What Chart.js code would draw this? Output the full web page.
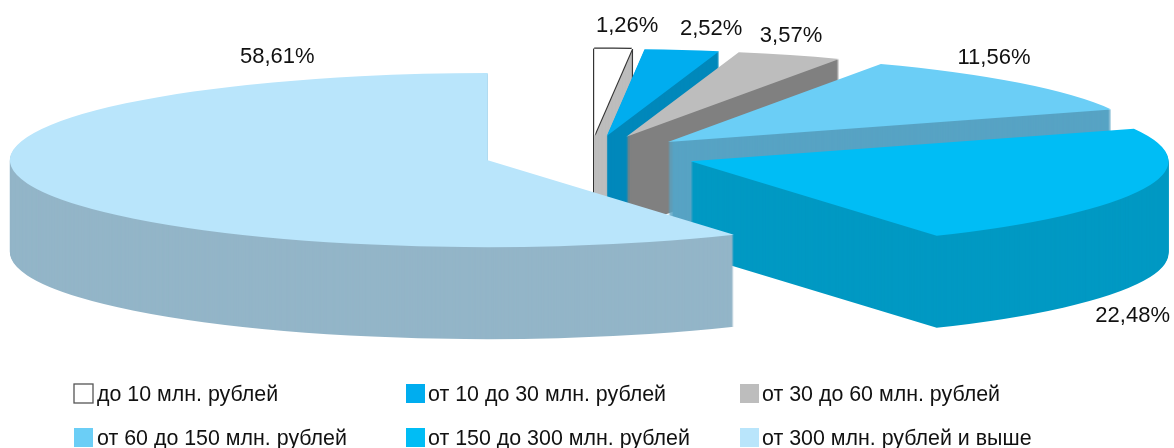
<!DOCTYPE html>
<html lang="ru">
<head>
<meta charset="utf-8">
<title>Pie</title>
<script src="https://cdn.jsdelivr.net/npm/chart.js@4"></script>
<style>
  html, body { margin: 0; padding: 0; background: #fff; overflow: hidden; }
  #wrap { width: 1174px; height: 448px; position: relative; }
</style>
</head>
<body>
<div id="wrap"><canvas id="pie"></canvas></div>
<script>
'use strict';

var categories = ['до 10 млн. рублей', 'от 10 до 30 млн. рублей', 'от 30 до 60 млн. рублей',
  'от 60 до 150 млн. рублей', 'от 150 до 300 млн. рублей', 'от 300 млн. рублей и выше'];
var shares = [1.26, 2.52, 3.57, 11.56, 22.48, 58.61];

var topColors = ['#FFFFFF', '#00ADEF', '#BDBDBD', '#6BCEF6', '#00BDF5', '#B9E5FB'];
var wallColors = ['#BDBDBD', '#0088BB', '#808080', '#57A3C4', '#0099C3', '#93B5C8'];
var swatchBorders = ['#555555', null, null, null, null, null];

// where each percent label sits, relative to the middle of the slice's rim
var labelShift = [[14, -23], [29, -21], [1, -19], [-25, -25], [-11, 127], [250, -126]];

var FONT = '"Liberation Sans", Arial, sans-serif';
var RADIUS = 178;
var EXPLODE = 39.5;
var centerX = 590, centerY = 155;
var stretchX = 2.685, stretchY = 0.489;
var depth = 92;
var swatchX = [74, 406, 740];
var legendX = [97, 428, 762];
var swatchY = [384, 428];
var baselineY = [401, 445];

function drawArcAs(ctx, arc, color) {
  var saved = arc.options;
  arc.options = { backgroundColor: color, borderColor: color, borderWidth: 0, offset: 0, spacing: 0,
    borderAlign: 'center', borderRadius: 0, circular: true };
  arc.draw(ctx);
  arc.options = saved;
}

// squashed copy of the arc, moved to its exploded spot plus dx/dy screen pixels
function drawSlice(ctx, arc, explode, dx, dy, color) {
  var mid = (arc.startAngle + arc.endAngle) / 2;
  ctx.save();
  ctx.translate(centerX + dx + Math.cos(mid) * explode * stretchX,
    centerY + dy + Math.sin(mid) * explode * stretchY);
  ctx.scale(stretchX, stretchY);
  ctx.translate(-arc.x, -arc.y);
  drawArcAs(ctx, arc, color);
  ctx.restore();
}

var pie3d = {
  id: 'pie3d',
  beforeDatasetsDraw: function (chart) {
    var ctx = chart.ctx;
    var arcs = chart.getDatasetMeta(0).data;
    arcs.forEach(function (arc, i) {
      var explode = arc.options.offset;
      var d;
      if (swatchBorders[i]) {
        // thin outline only on the white slice
        for (d = depth; d >= 0; d--) {
          drawSlice(ctx, arc, explode, -1.2, d, '#333333');
          drawSlice(ctx, arc, explode, 1.2, d, '#333333');
        }
        drawSlice(ctx, arc, explode, 0, -1.2, '#333333');
      }
      for (d = depth; d > 0; d--) {
        drawSlice(ctx, arc, explode, 0, d, wallColors[i]);
      }
      if (swatchBorders[i]) {
        drawSlice(ctx, arc, explode, -1.2, 0, '#333333');
        drawSlice(ctx, arc, explode, 1.2, 0, '#333333');
      }
      drawSlice(ctx, arc, explode, 0, 0, topColors[i]);
    });
    return false;
  },
  afterDraw: function (chart) {
    var ctx = chart.ctx;
    var arcs = chart.getDatasetMeta(0).data;
    ctx.save();
    ctx.fillStyle = '#111111';
    ctx.font = '22px ' + FONT;
    ctx.textAlign = 'center';
    ctx.textBaseline = 'middle';
    arcs.forEach(function (arc, i) {
      var mid = (arc.startAngle + arc.endAngle) / 2;
      var explode = arc.options.offset + RADIUS;
      var x = centerX + Math.cos(mid) * explode * stretchX;
      var y = centerY + Math.sin(mid) * explode * stretchY;
      ctx.fillText(shares[i].toFixed(2).replace('.', ',') + '%', x + labelShift[i][0], y + labelShift[i][1]);
    });

    ctx.textAlign = 'left';
    ctx.textBaseline = 'alphabetic';
    ctx.font = '21.4px ' + FONT;
    categories.forEach(function (name, i) {
      var col = i % 3;
      var row = Math.floor(i / 3);
      ctx.fillStyle = topColors[i];
      ctx.fillRect(swatchX[col], swatchY[row], 19, 19);
      if (swatchBorders[i]) {
        ctx.strokeStyle = swatchBorders[i];
        ctx.lineWidth = 1.3;
        ctx.strokeRect(swatchX[col], swatchY[row], 19, 19);
      }
      ctx.fillStyle = '#111111';
      ctx.fillText(name, legendX[col], baselineY[row]);
    });
    ctx.restore();
  }
};

new Chart(document.getElementById('pie'), {
  type: 'pie',
  data: {
    labels: categories,
    datasets: [{
      data: shares,
      backgroundColor: topColors,
      borderWidth: 0,
      offset: EXPLODE
    }]
  },
  options: {
    responsive: true,
    maintainAspectRatio: false,
    animation: false,
    radius: RADIUS,
    plugins: { legend: { display: false }, tooltip: { enabled: false } }
  },
  plugins: [pie3d]
});
</script>
</body>
</html>
